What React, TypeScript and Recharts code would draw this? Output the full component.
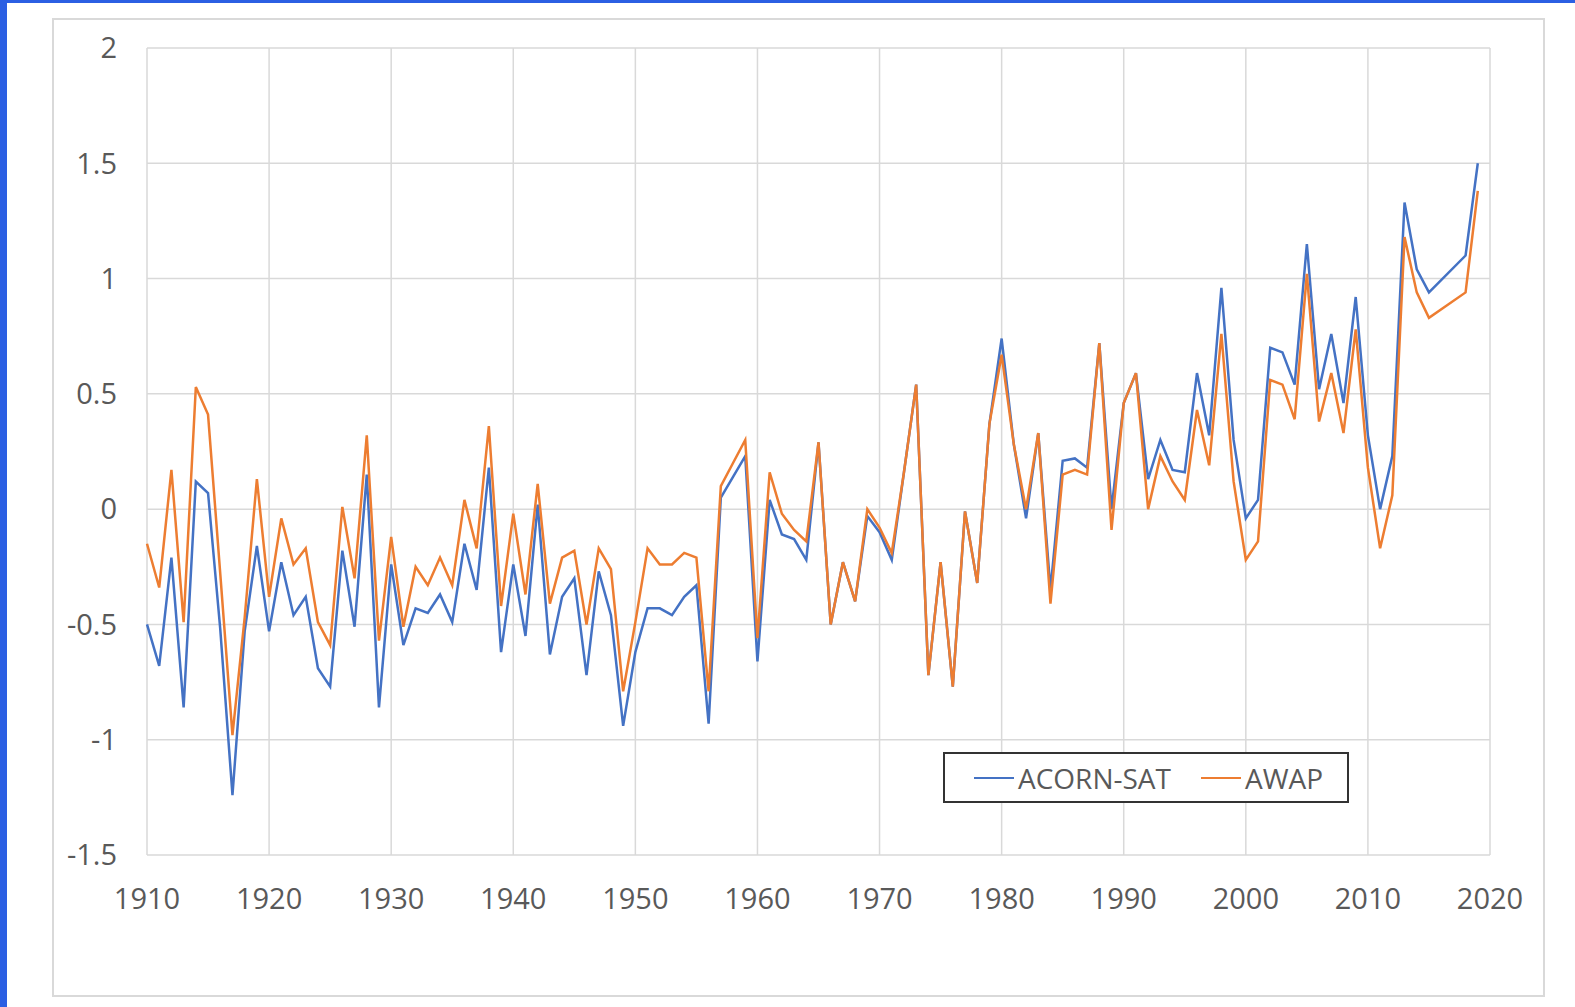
import React from "react";
import { LineChart, Line, XAxis, YAxis, CartesianGrid, Legend } from "recharts";

// annual temperature anomaly, 1910-2019 (2016/2017 gaps are joined)
const START_YEAR = 1910;

const acornSat: (number | null)[] = [
  -0.5, -0.68, -0.21, -0.86, 0.12, 0.07, -0.52, -1.24, -0.53, -0.16,
  -0.53, -0.23, -0.46, -0.38, -0.69, -0.77, -0.18, -0.51, 0.15, -0.86,
  -0.24, -0.59, -0.43, -0.45, -0.37, -0.49, -0.15, -0.35, 0.18, -0.62,
  -0.24, -0.55, 0.02, -0.63, -0.38, -0.3, -0.72, -0.27, -0.46, -0.94,
  -0.62, -0.43, -0.43, -0.46, -0.38, -0.33, -0.93, 0.05, 0.14, 0.23,
  -0.66, 0.04, -0.11, -0.13, -0.22, 0.29, -0.5, -0.23, -0.4, -0.03,
  -0.1, -0.22, 0.16, 0.54, -0.72, -0.23, -0.77, -0.01, -0.32, 0.37,
  0.74, 0.28, -0.04, 0.33, -0.35, 0.21, 0.22, 0.18, 0.72, 0.0,
  0.46, 0.59, 0.13, 0.3, 0.17, 0.16, 0.59, 0.32, 0.96, 0.3,
  -0.04, 0.04, 0.7, 0.68, 0.54, 1.15, 0.52, 0.76, 0.46, 0.92,
  0.32, 0.0, 0.23, 1.33, 1.04, 0.94, null, null, 1.1, 1.5,
];

const awap: (number | null)[] = [
  -0.15, -0.34, 0.17, -0.49, 0.53, 0.41, -0.28, -0.98, -0.47, 0.13,
  -0.38, -0.04, -0.24, -0.17, -0.49, -0.59, 0.01, -0.3, 0.32, -0.57,
  -0.12, -0.51, -0.25, -0.33, -0.21, -0.33, 0.04, -0.17, 0.36, -0.42,
  -0.02, -0.37, 0.11, -0.41, -0.21, -0.18, -0.5, -0.17, -0.26, -0.79,
  -0.49, -0.17, -0.24, -0.24, -0.19, -0.21, -0.79, 0.1, 0.2, 0.3,
  -0.56, 0.16, -0.02, -0.09, -0.14, 0.29, -0.5, -0.23, -0.4, 0.0,
  -0.08, -0.19, 0.16, 0.54, -0.72, -0.23, -0.77, -0.01, -0.32, 0.37,
  0.67, 0.28, 0.0, 0.33, -0.41, 0.15, 0.17, 0.15, 0.72, -0.09,
  0.46, 0.59, 0.0, 0.23, 0.12, 0.04, 0.43, 0.19, 0.76, 0.12,
  -0.22, -0.14, 0.56, 0.54, 0.39, 1.02, 0.38, 0.59, 0.33, 0.78,
  0.18, -0.17, 0.06, 1.18, 0.94, 0.83, null, null, 0.94, 1.38,
];

const xTicks = [1910, 1920, 1930, 1940, 1950, 1960, 1970, 1980, 1990, 2000, 2010, 2020];
const yTicks = [-1.5, -1, -0.5, 0, 0.5, 1, 1.5, 2];

const BLUE = "#4472C4";
const ORANGE = "#ED7D31";
const TEXT = "#595959";
const FONT = "'Open Sans', sans-serif";
const LEGEND_H = 51;

const data = acornSat.map((v, i) => ({
  year: START_YEAR + i,
  acorn: v,
  awap: awap[i],
}));

const renderLegend = (props: any) => {
  const { payload } = props;
  return (
    <div
      style={{
        boxSizing: "border-box",
        width: "100%",
        height: LEGEND_H,
        border: "2px solid #333",
        background: "#fff",
        display: "flex",
        alignItems: "center",
        paddingLeft: 29,
        fontFamily: FONT,
        fontSize: 28,
        color: TEXT,
        whiteSpace: "nowrap",
      }}
    >
      {payload.map((entry: any, i: number) => (
        <div key={i} style={{ display: "flex", alignItems: "center", flexShrink: 0, marginRight: 30 }}>
          <div style={{ width: 40, height: 2, background: entry.color }} />
          <span style={{ marginLeft: 4 }}>{entry.value}</span>
        </div>
      ))}
    </div>
  );
};

export default function App() {
  return (
    <div style={{ position: "absolute", left: 0, top: 0, width: 1575, height: 1007, background: "#fff" }}>
      <div style={{ position: "absolute", left: 0, top: 0, width: 7, height: 1007, background: "#2B5FE3" }} />
      <div style={{ position: "absolute", left: 0, top: 0, width: 1575, height: 3, background: "#2B5FE3" }} />
      <div
        style={{
          position: "absolute",
          left: 52,
          top: 18,
          width: 1493,
          height: 979,
          boxSizing: "border-box",
          border: "2px solid #D9D9D9",
        }}
      />
      <div style={{ position: "absolute", left: 0, top: 0 }}>
        {/* legend height is reserved at the bottom by recharts, so the margin is reduced by it */}
        <LineChart
          width={1575}
          height={1007}
          data={data}
          margin={{ top: 48, right: 85, bottom: 102 - LEGEND_H, left: 60 }}
        >
          <CartesianGrid stroke="#D9D9D9" strokeWidth={1.5} />
          <XAxis
            dataKey="year"
            type="number"
            domain={[1910, 2020]}
            ticks={xTicks}
            interval={0}
            height={50}
            axisLine={false}
            tickLine={false}
            tickMargin={27}
            tick={{ fill: TEXT, fontSize: 29, fontFamily: FONT }}
          />
          <YAxis
            type="number"
            domain={[-1.5, 2]}
            ticks={yTicks}
            interval={0}
            width={87}
            axisLine={false}
            tickLine={false}
            tickMargin={24}
            tick={{ fill: TEXT, fontSize: 29, fontFamily: FONT }}
          />
          <Legend
            content={renderLegend}
            wrapperStyle={{ left: 943, top: 752, width: 406, height: LEGEND_H }}
          />
          <Line
            type="linear"
            dataKey="acorn"
            name="ACORN-SAT"
            stroke={BLUE}
            strokeWidth={2.5}
            dot={false}
            connectNulls
            isAnimationActive={false}
          />
          <Line
            type="linear"
            dataKey="awap"
            name="AWAP"
            stroke={ORANGE}
            strokeWidth={2.5}
            dot={false}
            connectNulls
            isAnimationActive={false}
          />
        </LineChart>
      </div>
    </div>
  );
}
